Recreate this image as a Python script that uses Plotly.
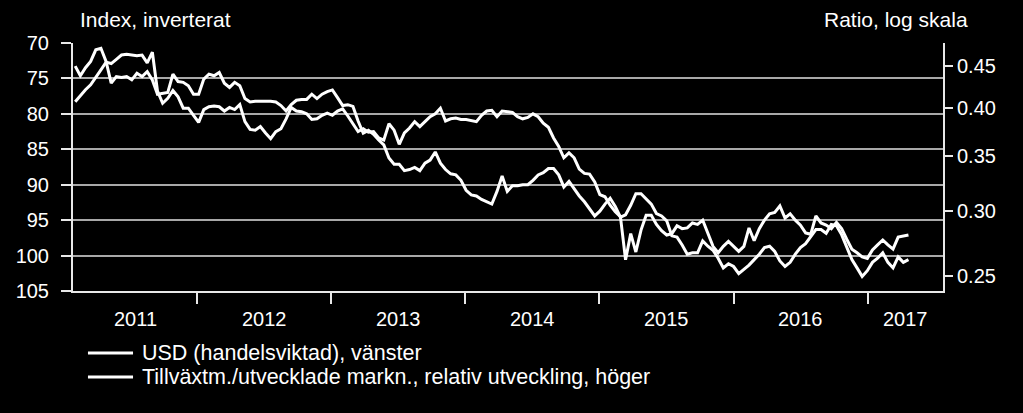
import math
import pandas as pd
import plotly.graph_objects as go

# ---- data (bi-weekly readings) ----
dates = pd.date_range("2011-02-04", periods=163, freq="14D")

usd = [78.3, 77.4, 76.6, 75.9, 74.9, 73.8, 72.7, 72.9, 72.3, 71.7,
       71.6, 71.7, 71.8, 71.7, 72.8, 71.3, 76.8, 78.5, 77.8, 76.7,
       77.6, 79.2, 79.2, 80.2, 81.2, 79.4, 79.0, 78.9, 79.0, 79.6,
       79.1, 79.4, 78.7, 81.1, 82.2, 82.3, 81.8, 82.7, 83.5, 82.5,
       82.1, 80.7, 79.1, 79.6, 79.7, 80.0, 80.8, 80.7, 80.2, 79.9,
       80.2, 79.6, 79.3, 80.3, 81.4, 82.5, 82.1, 82.6, 82.5, 83.4,
       83.7, 81.4, 82.3, 84.3, 82.7, 82.0, 81.1, 81.8, 81.1, 80.4,
       80.0, 79.2, 81.0, 80.7, 80.6, 80.8, 80.8, 81.0, 81.1, 80.2,
       79.6, 79.5, 80.4, 79.6, 79.7, 79.8, 80.4, 80.7, 80.5, 80.0,
       80.4, 81.3, 81.9, 83.4, 84.6, 86.2, 85.5, 86.2, 87.8, 88.4,
       88.5, 89.6, 91.4, 91.7, 92.9, 93.8, 94.5, 100.6, 96.9, 99.5,
       96.4, 94.3, 94.3, 95.6, 96.5, 97.1, 96.9, 95.8, 96.2, 96.1,
       95.4, 95.6, 95.0, 97.0, 98.7, 99.6, 98.7, 98.0, 98.7, 99.4,
       98.7, 96.1, 97.9, 96.2, 95.0, 94.1, 93.9, 93.0, 94.7, 94.1,
       95.0, 95.7, 96.8, 97.0, 94.4, 95.4, 95.7, 96.2, 95.3, 96.2,
       97.7, 99.1, 99.6, 100.2, 100.4, 99.2, 98.5, 97.8, 98.5, 99.1,
       97.4, 97.3, 97.1]

em_rel = [0.450, 0.438, 0.448, 0.456, 0.471, 0.473, 0.456, 0.429, 0.437, 0.436,
          0.437, 0.433, 0.441, 0.437, 0.443, 0.433, 0.416, 0.417, 0.418, 0.440,
          0.431, 0.430, 0.426, 0.416, 0.416, 0.434, 0.440, 0.438, 0.442, 0.429,
          0.424, 0.430, 0.426, 0.411, 0.407, 0.408, 0.408, 0.408, 0.408, 0.407,
          0.403, 0.397, 0.404, 0.409, 0.410, 0.410, 0.416, 0.411, 0.416, 0.419,
          0.421, 0.412, 0.403, 0.404, 0.402, 0.386, 0.373, 0.376, 0.372, 0.366,
          0.361, 0.348, 0.342, 0.342, 0.336, 0.337, 0.339, 0.336, 0.343, 0.346,
          0.354, 0.343, 0.337, 0.333, 0.332, 0.327, 0.318, 0.314, 0.313, 0.310,
          0.308, 0.306, 0.317, 0.331, 0.317, 0.322, 0.322, 0.323, 0.323, 0.327,
          0.332, 0.334, 0.338, 0.338, 0.332, 0.321, 0.326, 0.319, 0.313, 0.308,
          0.302, 0.296, 0.300, 0.306, 0.311, 0.304, 0.295, 0.297, 0.305, 0.315,
          0.315, 0.310, 0.306, 0.298, 0.296, 0.292, 0.280, 0.279, 0.273, 0.266,
          0.267, 0.267, 0.276, 0.272, 0.269, 0.263, 0.256, 0.259, 0.257, 0.252,
          0.255, 0.258, 0.262, 0.266, 0.271, 0.272, 0.268, 0.261, 0.257, 0.260,
          0.266, 0.271, 0.274, 0.279, 0.285, 0.285, 0.282, 0.289, 0.288, 0.281,
          0.271, 0.262, 0.256, 0.250, 0.254, 0.260, 0.263, 0.267, 0.260, 0.256,
          0.264, 0.260, 0.262]

series_names = ["USD (handelsviktad), vänster",
                "Tillväxtm./utvecklade markn., relativ utveckling, höger"]

left_ticks = [70, 75, 80, 85, 90, 95, 100, 105]
right_ticks = [0.25, 0.30, 0.35, 0.40, 0.45]
right_ticktext = ["0.25", "0.30", "0.35", "0.40", "0.45"]
year_ticks = ["2012-01-01", "2013-01-01", "2014-01-01", "2015-01-01",
              "2016-01-01", "2017-01-01"]
year_labels = ["2011", "2012", "2013", "2014", "2015", "2016", "2017"]
year_label_pos = ["2011-07-17", "2012-07-02", "2013-07-02", "2014-07-02",
                  "2015-07-02", "2016-07-02", "2017-04-12"]
x_range = ["2011-01-29", "2017-07-24"]

FONT = "Liberation Sans, Arial, sans-serif"
WHITE = "#ffffff"
AXIS = "#e8e8e8"
NBSP = "\u00a0"

fig = go.Figure()
fig.add_trace(go.Scatter(x=dates, y=usd, name=series_names[0], mode="lines",
                         line=dict(color=WHITE, width=3), yaxis="y"))
fig.add_trace(go.Scatter(x=dates, y=em_rel, name=series_names[1], mode="lines",
                         line=dict(color=WHITE, width=3), yaxis="y2"))

annotations = []
for lab, pos in zip(year_labels, year_label_pos):
    annotations.append(dict(x=pos, y=-0.113, xref="x", yref="paper", text=lab,
                            showarrow=False, xanchor="center", yanchor="middle",
                            font=dict(family=FONT, size=20, color=WHITE)))
annotations.append(dict(x=0.006, y=1.093, xref="paper", yref="paper",
                        text="Index, inverterat", showarrow=False,
                        xanchor="left", yanchor="middle",
                        font=dict(family=FONT, size=21, color=WHITE)))
annotations.append(dict(x=1.031, y=1.093, xref="paper", yref="paper",
                        text="Ratio, log skala", showarrow=False,
                        xanchor="right", yanchor="middle",
                        font=dict(family=FONT, size=21, color=WHITE)))

# legend drawn as key lines + text below the plot
legend_rows = [-0.250, -0.347]
shapes = []
for name, yrow in zip(series_names, legend_rows):
    shapes.append(dict(type="line", xref="paper", yref="paper",
                       x0=0.0172, x1=0.0690, y0=yrow, y1=yrow,
                       line=dict(color=WHITE, width=3)))
    annotations.append(dict(x=0.0770, y=yrow, xref="paper", yref="paper",
                            text=name, showarrow=False, xanchor="left",
                            yanchor="middle",
                            font=dict(family=FONT, size=21.5, color=WHITE)))

fig.update_layout(
    width=1023, height=413,
    margin=dict(l=73, r=80, t=43, b=122),
    paper_bgcolor="black", plot_bgcolor="black",
    font=dict(family=FONT, size=20, color=WHITE),
    showlegend=False,
    xaxis=dict(type="date", range=x_range, showgrid=False, zeroline=False,
               showline=True, linecolor=AXIS, linewidth=2,
               ticks="outside", tickvals=year_ticks, ticklen=11, tickwidth=2,
               tickcolor=AXIS, showticklabels=False),
    yaxis=dict(range=[105, 70], tickvals=left_ticks, ticks="outside", ticklen=10,
               tickwidth=2, tickcolor=AXIS, showline=True, linecolor=AXIS,
               linewidth=2, showgrid=True, gridcolor="#a8a8a8", gridwidth=2,
               zeroline=False, ticklabelstandoff=8,
               tickfont=dict(family=FONT, size=20, color=WHITE)),
    yaxis2=dict(type="log", overlaying="y", side="right",
                range=[math.log10(0.24), math.log10(0.48)],
                tickvals=right_ticks, ticktext=right_ticktext, ticks="outside",
                ticklen=8, tickwidth=2, tickcolor=AXIS, showline=True,
                linecolor=AXIS, linewidth=2, showgrid=False, zeroline=False,
                tickprefix=NBSP * 2,
                tickfont=dict(family=FONT, size=20, color=WHITE)),
    shapes=shapes,
    annotations=annotations,
)

fig.write_html("out.html")
